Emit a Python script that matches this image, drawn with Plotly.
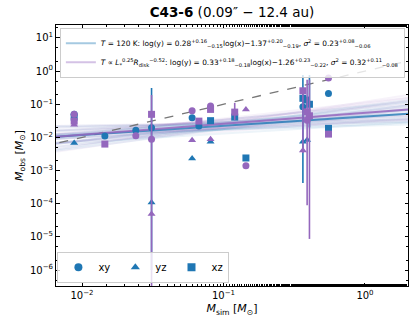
import plotly.graph_objects as go

# ---------------- data ----------------
BLUE = "#1f77b4"
PURP = "#9467bd"

# T = 120 K series (blue)
b_xy_x = [0.0088, 0.0145, 0.024, 0.031, 0.060, 0.067, 0.364, 0.552]
b_xy_y = [0.050, 0.011, 0.0166, 0.0196, 0.039, 0.022, 0.084, 0.21]
b_yz_x = [0.0088, 0.031, 0.060, 0.081, 0.364, 0.39]
b_yz_y = [0.0068, 1.1e-4, 0.0023, 0.0074, 0.0074, 0.0083]
b_yz_up = [0, 0.31, 0, 0, 0.76, 0]
b_yz_lo = [0, 1.0e-6, 0, 0, 4.2e-4, 0]
b_xz_x = [0.0088, 0.081, 0.12, 0.144, 0.364, 0.38, 0.405, 0.552]
b_xz_y = [0.041, 0.032, 0.041, 0.0024, 0.151, 0.134, 0.10, 0.0188]
b_xz_up = [0, 0, 0, 0, 0, 0, 0.76, 0]
b_xz_lo = [0, 0, 0, 0, 0, 0, 0.02, 0]

# T ∝ L^0.25 R^-0.52 series (purple)
p_xy_x = [0.0088, 0.024, 0.031, 0.060, 0.081, 0.144, 0.39, 0.552]
p_xy_y = [0.050, 0.0112, 0.00875, 0.064, 0.088, 0.0014, 0.033, 0.62]
p_xy_up = [0, 0, 0, 0, 0, 0, 0.55, 0]
p_xy_lo = [0, 0, 0, 0, 0, 0, 9.0e-5, 0]
p_yz_x = [0.0088, 0.031, 0.060, 0.081, 0.144, 0.364]
p_yz_y = [0.024, 4.9e-5, 0.0082, 0.0088, 0.070, 0.004]
p_yz_up = [0, 0.19, 0, 0, 0, 0.31]
p_yz_lo = [0, 1.0e-8, 0, 0, 0, 0.0034]
p_xz_x = [0.0088, 0.0145, 0.031, 0.067, 0.081, 0.12, 0.364, 0.39, 0.405, 0.552]
p_xz_y = [0.031, 0.0063, 0.0497, 0.031, 0.070, 0.058, 0.255, 0.059, 0.045, 0.0126]
p_xz_up = [0, 0, 0, 0, 0, 0.11, 0, 0, 0.55, 0]
p_xz_lo = [0, 0, 0, 0, 0, 0.033, 0, 0, 8.7e-6, 0]

# fit parameters (log y = a log x + b)
fit_b = (0.28, -1.37)
fit_p = (0.33, -1.26)
samples_b = [(0.05, -1.55), (0.10, -1.48), (0.15, -1.60), (0.20, -1.35), (0.25, -1.50),
             (0.30, -1.25), (0.35, -1.40), (0.40, -1.15), (0.45, -1.30), (0.50, -1.10),
             (0.55, -1.20), (0.60, -1.05), (0.28, -1.37), (0.22, -1.55), (0.33, -1.20),
             (0.18, -1.42), (0.38, -1.32), (0.12, -1.65), (0.42, -1.05), (0.26, -1.62)]
samples_p = [(0.08, -1.48), (0.14, -1.40), (0.20, -1.52), (0.25, -1.25), (0.30, -1.40),
             (0.35, -1.12), (0.40, -1.30), (0.45, -1.02), (0.50, -1.20), (0.56, -0.98),
             (0.62, -1.08), (0.66, -0.92), (0.33, -1.26), (0.27, -1.45), (0.38, -1.08),
             (0.22, -1.32), (0.43, -1.22), (0.16, -1.55), (0.48, -0.95), (0.30, -1.52)]

XLOG = [-2.184, 0.304]
YLOG = [-6.48, 1.39]
x_tickvals = [0.01, 0.1, 1]
x_ticktext = ["10<sup>−2</sup>", "10<sup>−1</sup>", "10<sup>0</sup>"]
y_tickvals = [1e-6, 1e-5, 1e-4, 1e-3, 1e-2, 1e-1, 1, 10]
y_ticktext = ["10<sup>−6</sup>", "10<sup>−5</sup>", "10<sup>−4</sup>", "10<sup>−3</sup>",
              "10<sup>−2</sup>", "10<sup>−1</sup>", "10<sup>0</sup>", "10<sup>1</sup>"]

leg_b = ("<i>T</i> = 120 K: log(y) = 0.28<sup>+0.16</sup><sub>−0.15</sub>log(x)−1.37"
         "<sup>+0.20</sup><sub>−0.19</sub>, <i>σ</i><sup>2</sup> = 0.23<sup>+0.08</sup><sub>−0.06</sub>")
leg_p = ("<i>T</i> ∝ <i>L</i><sub>*</sub><sup>0.25</sup><i>R</i><sub>disk</sub><sup>−0.52</sup>: "
         "log(y) = 0.33<sup>+0.18</sup><sub>−0.18</sub>log(x)−1.26<sup>+0.23</sup><sub>−0.22</sub>, "
         "<i>σ</i><sup>2</sup> = 0.32<sup>+0.11</sup><sub>−0.08</sub>")

# ---------------- figure ----------------
fig = go.Figure()

lx = [10 ** (XLOG[0] - 0.1), 10 ** (XLOG[1] + 0.1)]


def line_y(a, b):
    return [10 ** (a * (v) + b) for v in (XLOG[0] - 0.1, XLOG[1] + 0.1)]


# faint posterior sample lines
for samples, col in ((samples_b, "rgba(31,119,180,0.08)"), (samples_p, "rgba(148,103,189,0.08)")):
    xs, ys = [], []
    for a, b in samples:
        xs += lx + [None]
        ys += line_y(a, b) + [None]
    fig.add_trace(go.Scatter(x=xs, y=ys, mode="lines", line=dict(color=col, width=2),
                             showlegend=False, hoverinfo="skip"))

# 1:1 line
fig.add_trace(go.Scatter(x=lx, y=lx, mode="lines",
                         line=dict(color="#777777", width=1.3, dash="dash"),
                         showlegend=False))

# main fit lines
fig.add_trace(go.Scatter(x=lx, y=line_y(*fit_b), mode="lines",
                         line=dict(color="rgba(31,119,180,0.75)", width=2), showlegend=False))
fig.add_trace(go.Scatter(x=lx, y=line_y(*fit_p), mode="lines",
                         line=dict(color="rgba(148,103,189,0.85)", width=2), showlegend=False))

# legend entries for fits
fig.add_trace(go.Scatter(x=[None], y=[None], mode="lines", name=leg_b,
                         line=dict(color="rgba(31,119,180,0.4)", width=2), legend="legend"))
fig.add_trace(go.Scatter(x=[None], y=[None], mode="lines", name=leg_p,
                         line=dict(color="rgba(148,103,189,0.4)", width=2), legend="legend"))


def pts(x, y, up, lo, color, symbol):
    err = None
    if up:
        ep = [u - v if u else 0 for u, v in zip(up, y)]
        em = [v - l if l else 0 for l, v in zip(lo, y)]
        err = dict(type="data", array=ep, arrayminus=em, color=color, thickness=1.6, width=0)
    fig.add_trace(go.Scatter(x=x, y=y, mode="markers", error_y=err,
                             marker=dict(color=color, symbol=symbol, size=7),
                             showlegend=False))


pts(b_xy_x, b_xy_y, None, None, BLUE, "circle")
pts(b_yz_x, b_yz_y, b_yz_up, b_yz_lo, BLUE, "triangle-up")
pts(b_xz_x, b_xz_y, b_xz_up, b_xz_lo, BLUE, "square")
pts(p_xy_x, p_xy_y, p_xy_up, p_xy_lo, PURP, "circle")
pts(p_yz_x, p_yz_y, p_yz_up, p_yz_lo, PURP, "triangle-up")
pts(p_xz_x, p_xz_y, p_xz_up, p_xz_lo, PURP, "square")

# projection legend
for name, sym in (("xy", "circle"), ("yz", "triangle-up"), ("xz", "square")):
    fig.add_trace(go.Scatter(x=[None], y=[None], mode="markers", name=name,
                             marker=dict(color=BLUE, symbol=sym, size=8), legend="legend2"))

axis_common = dict(type="log", showgrid=False, zeroline=False, showline=True, automargin=False,
                   linecolor="black", linewidth=1, mirror="allticks", ticks="inside",
                   ticklen=3.5, tickwidth=1, tickcolor="black",
                   tickfont=dict(size=10, color="black"),
                   minor=dict(ticks="inside", ticklen=2, tickcolor="black", showgrid=False))

fig.update_xaxes(range=XLOG, tickvals=x_tickvals, ticktext=x_ticktext,
                 title=dict(text="<i>M</i><sub>sim</sub> [<i>M</i><sub>⊙</sub>]",
                            font=dict(size=11, color="black"), standoff=4),
                 **axis_common)
fig.update_yaxes(range=YLOG, tickvals=y_tickvals, ticktext=y_ticktext,
                 title=dict(text="<i>M</i><sub>obs</sub> [<i>M</i><sub>⊙</sub>]",
                            font=dict(size=11, color="black"), standoff=4),
                 **axis_common)

fig.update_layout(
    template="none",
    width=415, height=328,
    margin=dict(l=56, r=7, t=25, b=42, autoexpand=False),
    paper_bgcolor="white", plot_bgcolor="white",
    font=dict(family="DejaVu Sans", color="black"),
    title=dict(text="<b>C43-6</b> (0.09″ − 12.4 au)", x=0.559, xref="container",
               xanchor="center", y=0.963, yanchor="middle", font=dict(size=13.5)),
    legend=dict(x=0.011, y=0.989, xanchor="left", yanchor="top",
                bgcolor="rgba(255,255,255,0.8)", bordercolor="#cccccc", borderwidth=1,
                font=dict(size=7.4), itemwidth=30, tracegroupgap=0),
    legend2=dict(x=0.004, y=0.012, xanchor="left", yanchor="bottom", orientation="h",
                 bgcolor="rgba(255,255,255,0.8)", bordercolor="#cccccc", borderwidth=1,
                 font=dict(size=10), itemwidth=30),
    showlegend=True,
)

fig.write_html("out.html", config={"displayModeBar": False},
               post_script="document.body.style.margin='0';")
